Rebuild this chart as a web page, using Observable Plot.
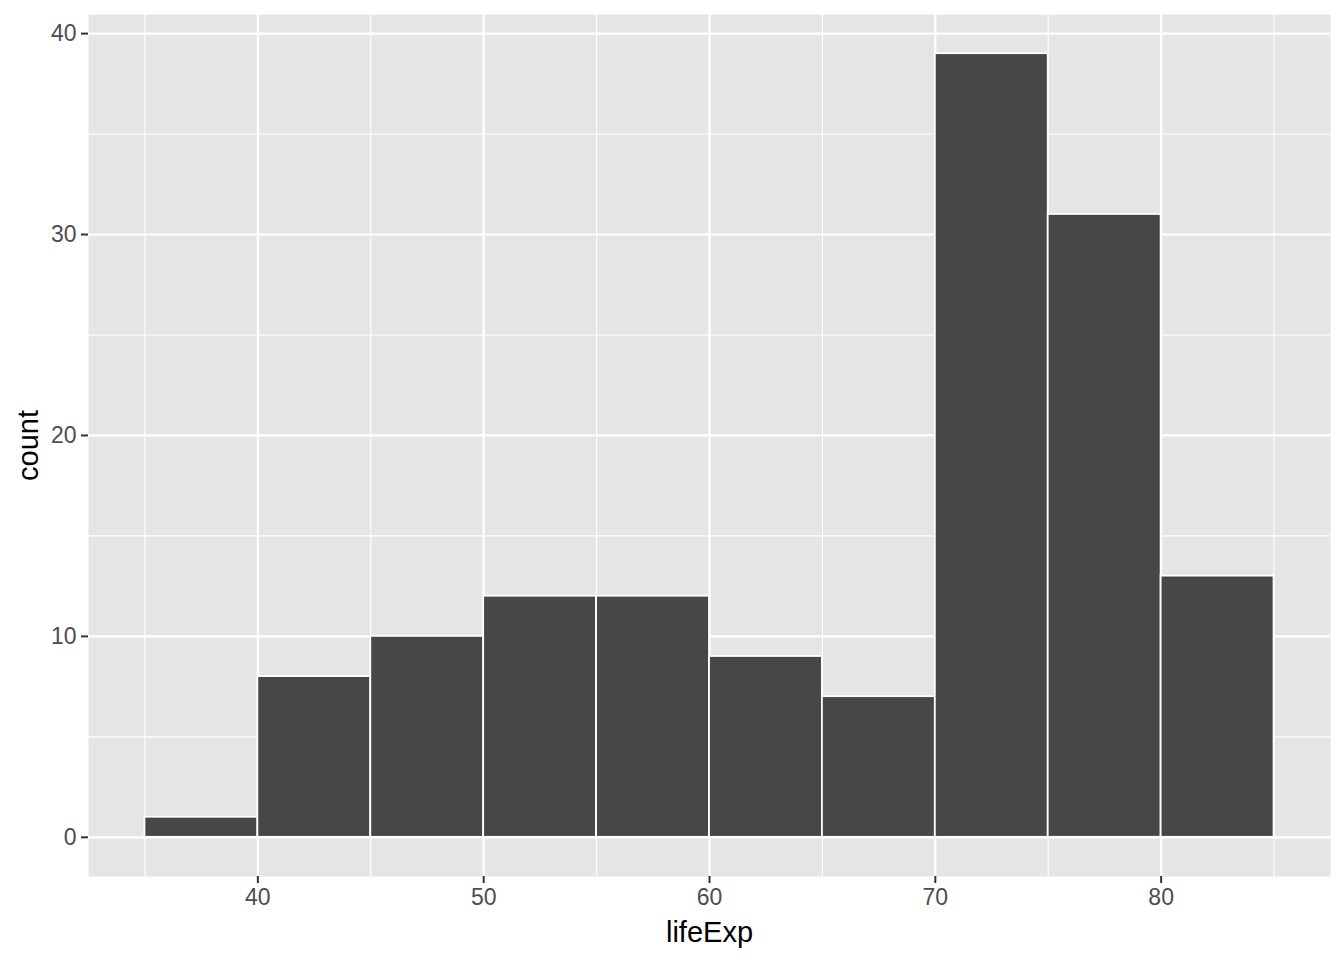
<!DOCTYPE html>
<html>
<head>
<meta charset="utf-8">
<script src="https://cdn.jsdelivr.net/npm/d3@7"></script>
<script src="https://cdn.jsdelivr.net/npm/@observablehq/plot@0.6"></script>
<style>
  html, body { margin: 0; padding: 0; background: #fff; }
  #chart svg { display: block; }
</style>
</head>
<body>
<div id="chart"></div>
<script>
// Data
const binStarts = [35, 40, 45, 50, 55, 60, 65, 70, 75, 80];
const binWidth = 5;
const counts = [1, 8, 10, 12, 12, 9, 7, 39, 31, 13];
const xMajorTicks = [40, 50, 60, 70, 80];
const xMinorTicks = [35, 45, 55, 65, 75, 85];
const yMajorTicks = [0, 10, 20, 30, 40];
const yMinorTicks = [5, 15, 25, 35];
const xTitle = "lifeExp";
const yTitle = "count";

const bins = binStarts.map((s, i) => ({x1: s, x2: s + binWidth, count: counts[i]}));

const font = "'Liberation Sans', Arial, Helvetica, sans-serif";

const chart = Plot.plot({
  width: 1344,
  height: 960,
  marginLeft: 88,
  marginRight: 14,
  marginTop: 14,
  marginBottom: 84,
  style: {fontFamily: font, background: "#fff"},
  x: {domain: [32.5, 87.5], axis: null},
  y: {domain: [-1.95, 40.95], axis: null},
  marks: [
    Plot.frame({fill: "#E5E5E5", stroke: null}),
    Plot.ruleX(xMinorTicks, {stroke: "#fff", strokeWidth: 1.1}),
    Plot.ruleY(yMinorTicks, {stroke: "#fff", strokeWidth: 1.1}),
    Plot.ruleX(xMajorTicks, {stroke: "#fff", strokeWidth: 2.2}),
    Plot.ruleY(yMajorTicks, {stroke: "#fff", strokeWidth: 2.2}),
    Plot.rectY(bins, {x1: "x1", x2: "x2", y1: 0, y2: "count", fill: "#474747", stroke: "#fff", strokeWidth: 1.8, inset: 0}),
    Plot.axisX({ticks: xMajorTicks, tickSize: 7, tickPadding: 5, fontSize: 23, stroke: "#333333", fill: "#4D4D4D", strokeWidth: 2, label: null, tickFormat: d3.format("d")}),
    Plot.axisY({ticks: yMajorTicks, tickSize: 7, tickPadding: 5, fontSize: 23, stroke: "#333333", fill: "#4D4D4D", strokeWidth: 2, label: null, tickFormat: d3.format("d")}),
    Plot.text([xTitle], {frameAnchor: "bottom", dy: 56, fontSize: 29, fill: "#000", lineAnchor: "middle", text: d => d}),
    Plot.text([yTitle], {frameAnchor: "left", dx: -60, rotate: -90, fontSize: 29, fill: "#000", lineAnchor: "middle", textAnchor: "middle", text: d => d})
  ]
});
document.getElementById("chart").appendChild(chart);
</script>
</body>
</html>
